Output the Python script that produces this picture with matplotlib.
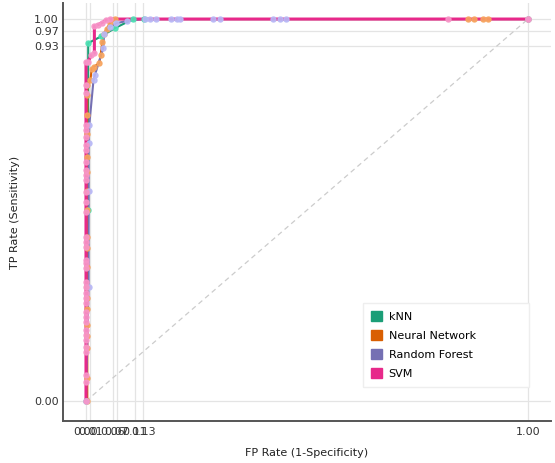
import matplotlib
matplotlib.use("Agg")
import matplotlib.pyplot as plt
from matplotlib.patches import Patch

# ---- data (FPR, TPR) ----
svm_low_tpr = [0.0, 0.05, 0.068, 0.128, 0.141, 0.16, 0.173, 0.186, 0.207, 0.22, 0.233,
               0.257, 0.27, 0.283, 0.298, 0.312, 0.348, 0.361, 0.369, 0.403, 0.416,
               0.429, 0.495, 0.521, 0.547, 0.578, 0.592, 0.605, 0.626, 0.657, 0.67,
               0.691, 0.709, 0.723, 0.806, 0.827, 0.887]
svm_fpr = [0.0] * len(svm_low_tpr) + [0.004, 0.012, 0.019, 0.019, 0.027, 0.036, 0.045, 0.055, 0.819, 1.0]
svm_tpr = svm_low_tpr + [0.887, 0.905, 0.91, 0.982, 0.985, 0.99, 0.997, 1.0, 1.0, 1.0]

nn_low_tpr = [0.0, 0.06, 0.14, 0.17, 0.2, 0.24, 0.27, 0.3, 0.35, 0.4, 0.43, 0.5,
              0.55, 0.6, 0.64, 0.7, 0.75, 0.8, 0.827]
nn_fpr = [0.003] * len(nn_low_tpr) + [0.01, 0.013, 0.018, 0.03, 0.033, 0.037, 0.04, 0.047,
                                     0.055, 0.065, 0.864, 0.878, 0.898, 0.91, 1.0]
nn_tpr = nn_low_tpr + [0.84, 0.87, 0.875, 0.885, 0.905, 0.94, 0.96, 0.975,
                       0.99, 1.0, 1.0, 1.0, 1.0, 1.0, 1.0]

rf_fpr = [0.0, 0.006, 0.006, 0.006, 0.0075, 0.017, 0.02, 0.039, 0.041, 0.054, 0.069,
          0.092, 0.133, 0.145, 0.158, 0.192, 0.205, 0.213, 0.287, 0.303, 0.423,
          0.439, 0.452, 1.0]
rf_tpr = [0.0, 0.3, 0.55, 0.675, 0.723, 0.84, 0.853, 0.923, 0.962, 0.98, 0.989,
          0.995, 1.0, 1.0, 1.0, 1.0, 1.0, 1.0, 1.0, 1.0, 1.0, 1.0, 1.0, 1.0]

knn_fpr = [0.0, 0.005, 0.005, 0.035, 0.065, 0.107, 0.131, 1.0]
knn_tpr = [0.0, 0.5, 0.937, 0.955, 0.976, 1.0, 1.0, 1.0]

x_ticks = [0.00, 0.01, 0.06, 0.07, 0.11, 0.13, 1.00]
x_ticklabels = ["0.00", "0.01", "0.06", "0.07", "0.11", "0.13", "1.00"]
y_ticks = [0.00, 0.93, 0.97, 1.00]
y_ticklabels = ["0.00", "0.93", "0.97", "1.00"]

names = ["kNN", "Neural Network", "Random Forest", "SVM"]
colors = ["#1b9e77", "#d95f02", "#7570b3", "#e7298a"]
marker_colors = ["#4fe0b4", "#f7a45e", "#b8b8f6", "#f795c8"]

fig = plt.figure(figsize=(5.55, 4.63), dpi=100)
ax = fig.add_axes([63 / 555, (463 - 421) / 463, (551 - 63) / 555, (421 - 3) / 463])

ax.set_xlim(-0.052, 1.052)
ax.set_ylim(-0.052, 1.042)

# diagonal
ax.plot([0, 1], [0, 1], linestyle=(0, (4, 3)), color="#cccccc", lw=0.9, zorder=1)

series = [(knn_fpr, knn_tpr), (nn_fpr, nn_tpr), (rf_fpr, rf_tpr), (svm_fpr, svm_tpr)]
widths = [1.5, 1.5, 1.5, 2.2]
for (fx, ty), c, mc, w in zip(series, colors, marker_colors, widths):
    ax.plot(fx, ty, color=c, lw=w, zorder=3, solid_joinstyle="round")
    ax.plot(fx, ty, linestyle="none", marker="o", ms=3.6, color=mc, mec=mc, zorder=4, alpha=0.9)

ax.set_xticks(x_ticks)
ax.set_xticklabels(x_ticklabels)
ax.set_yticks(y_ticks)
ax.set_yticklabels(y_ticklabels)
ax.tick_params(length=0, labelsize=8, colors="#333333")
ax.tick_params(axis="y", pad=3)
ax.tick_params(axis="x", pad=4)
ax.grid(True, color="#e4e4e4", lw=0.9)
ax.set_axisbelow(True)

for s in ["top", "right"]:
    ax.spines[s].set_visible(False)
for s in ["left", "bottom"]:
    ax.spines[s].set_color("#555555")
    ax.spines[s].set_linewidth(1.4)

ax.set_xlabel("FP Rate (1-Specificity)", fontsize=8, color="#222222", labelpad=8)
ax.set_ylabel("TP Rate (Sensitivity)", fontsize=8, color="#222222", labelpad=10)

handles = [Patch(facecolor=c, edgecolor=c) for c in colors]
leg = ax.legend(handles, names, loc="upper left",
                bbox_to_anchor=(0.615, 0.086, 0.34, 0.196), mode="expand",
                borderaxespad=0, fontsize=8, frameon=True, fancybox=False,
                handlelength=1.0, handleheight=1.0, handletextpad=0.6,
                labelspacing=0.75, borderpad=0.7)
leg.get_frame().set_facecolor("white")
leg.get_frame().set_edgecolor("#eeeeee")
leg.get_frame().set_alpha(1.0)
leg.set_zorder(10)

fig.savefig("out.png", dpi=100)
